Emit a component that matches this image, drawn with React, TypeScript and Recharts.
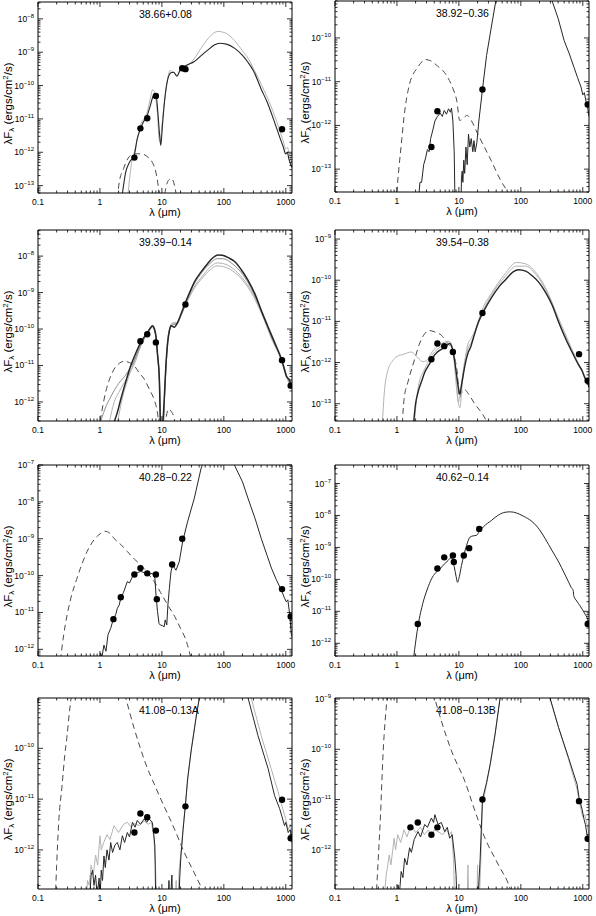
import React from 'react';
import { ComposedChart, Line, Scatter, XAxis, YAxis } from 'recharts';

type Pt = [number, number];

// ---- 38.66+0.08 ----
const P1_MODEL: Pt[] = [
  [2.3, 5.6e-14], [2.6, 2.5e-13], [3.0, 5e-13], [3.56, 7.9e-13], [4.0, 2.5e-12], [4.5, 5e-12],
  [5.0, 7.9e-12], [5.8, 1.26e-11], [6.5, 2.5e-11], [7.3, 5e-11], [8.0, 5.6e-11], [8.6, 1.6e-11],
  [9.2, 3.2e-12], [9.6, 1.6e-12], [10.2, 6.3e-12], [11, 3.2e-11], [12.4, 1.5e-10], [14, 2.4e-10],
  [15.5, 2.5e-10], [17.5, 1.9e-10], [19.5, 2.8e-10], [22, 3.5e-10], [26, 4.2e-10], [33, 5.2e-10],
  [45, 8.5e-10], [55, 1.15e-9], [70, 1.65e-9], [85, 1.86e-9], [110, 1.75e-9], [150, 1.3e-9],
  [200, 8e-10], [245, 5e-10], [300, 2.8e-10], [400, 7.9e-11], [500, 3.2e-11], [660, 7.9e-12],
  [800, 2.8e-12], [905, 1.5e-12], [1000, 8.9e-13], [1060, 1e-12], [1120, 6.3e-13], [1260, 3.5e-13],
];
const P1_ALT: Pt[] = [
  [2.85, 6e-14], [3.2, 4e-13], [3.6, 1e-12], [4.5, 6.3e-12], [5.8, 1.6e-11], [6.5, 4e-11],
  [7.1, 7.6e-11], [7.8, 5e-11], [8.5, 1.26e-11], [9.0, 2.5e-12], [9.4, 2e-12], [10, 6.3e-12],
  [11, 3.2e-11], [12.4, 1.6e-10], [13.6, 2.8e-10], [15.5, 2.5e-10], [17.5, 2e-10], [20, 3e-10],
  [24, 3.5e-10], [33, 6.3e-10], [45, 1.5e-9], [60, 3e-9], [80, 4.2e-9], [105, 3.8e-9],
  [150, 2.2e-9], [200, 1.1e-9], [250, 6.3e-10], [300, 3.3e-10], [400, 1.1e-10], [500, 4.5e-11],
  [660, 1.26e-11], [800, 4.5e-12], [905, 2.2e-12], [1000, 1.26e-12], [1060, 1.4e-12],
  [1150, 7.9e-13], [1260, 5e-13],
];
const P1_STAR: Pt[] = [
  [1.9, 4e-14], [2.05, 1.26e-13], [2.4, 3.2e-13], [2.8, 6.3e-13], [3.3, 8.5e-13], [4.0, 9e-13],
  [5.0, 8.7e-13], [6.0, 7e-13], [7.0, 5e-13], [8.0, 2.5e-13], [8.7, 1e-13], [9.4, 2.5e-14],
  [10.3, 2.5e-14], [11.5, 8e-14], [13, 1.5e-13], [14.5, 1.6e-13], [16, 1e-13], [17.5, 4e-14],
];
const P1_OBS: Pt[] = [
  [3.6, 6.9e-13], [4.5, 5.2e-12], [5.8, 1.05e-11], [8.0, 4.9e-11], [21.3, 3.3e-10], [24, 3.1e-10],
  [870, 4.9e-12],
];

// ---- 38.92-0.36 ----
const P2_MODEL: Pt[] = [
  [2.2, 1.6e-14], [2.35, 5e-14], [2.5, 5e-14], [2.7, 1.26e-13], [2.9, 1.8e-13], [3.1, 2.8e-13],
  [3.3, 2.5e-13], [3.5, 5e-13], [3.8, 7.9e-13], [4.1, 1.26e-12], [4.5, 1.6e-12], [5.0, 1.9e-12],
  [5.4, 1.6e-12], [5.8, 2.2e-12], [6.3, 1.8e-12], [6.8, 2.4e-12], [7.3, 2e-12], [7.6, 2.5e-12],
  [8.0, 1.26e-12], [8.4, 2.5e-13], [8.7, 1e-14], [10.8, 1e-14], [11.0, 6.3e-14], [11.3, 9e-14],
  [11.6, 5e-14], [12.0, 1.6e-13], [12.4, 8e-14], [13.0, 3.2e-13], [13.6, 1.26e-13], [14.3, 6.3e-13],
  [15.0, 3.2e-13], [15.8, 5e-13], [16.8, 2.5e-13], [17.5, 4.5e-13], [18.3, 2.5e-13], [19.5, 4e-13],
  [21, 1.26e-12], [24, 6.6e-12], [28, 4e-11], [33, 1.6e-10], [40, 7.9e-10], [60, 1e-8],
  [100, 2e-8], [180, 1e-8], [300, 1e-9], [320, 7e-10], [400, 2.8e-10], [500, 8.7e-11],
  [600, 4.5e-11], [724, 2.1e-11], [820, 1.26e-11], [935, 7.6e-12], [1000, 5e-12], [1060, 5.6e-12],
  [1130, 3.5e-12], [1200, 2.5e-12], [1260, 1.6e-12],
];
const P2_STAR: Pt[] = [
  [0.95, 1e-14], [1.0, 3.2e-14], [1.08, 1.1e-13], [1.2, 5e-13], [1.3, 1.55e-12], [1.6, 8.9e-12],
  [2.15, 2.1e-11], [2.9, 3.2e-11], [3.5, 3e-11], [4.5, 2.3e-11], [5.5, 1.8e-11], [6.6, 1.26e-11],
  [8.0, 7e-12], [9.3, 3.5e-12], [10.3, 1.3e-12], [11.5, 1.4e-12], [13.5, 1.7e-12], [16, 1.26e-12],
  [20, 6.5e-13], [25, 3.5e-13], [33, 1.6e-13], [47, 5.6e-14], [64, 2.8e-14],
];
const P2_OBS: Pt[] = [[3.6, 3.2e-13], [4.5, 2.1e-12], [24, 6.6e-12], [1200, 3.0e-12]];

// ---- 39.39-0.14 ----
const P3_MODEL: Pt[] = [
  [1.65, 2.5e-13], [1.9, 5e-13], [2.16, 1.15e-12], [2.6, 3.5e-12], [3.14, 9.8e-12], [3.8, 2.2e-11],
  [4.56, 4.3e-11], [5.86, 8.1e-11], [6.6, 1.1e-10], [7.06, 1.23e-10], [7.6, 1e-10], [8.0, 6.6e-11],
  [8.5, 2e-11], [9.06, 5.1e-12], [9.6, 1.6e-13], [10.3, 2.5e-13], [10.9, 1.15e-12], [11.6, 1e-11],
  [12.4, 4.3e-11], [13.2, 8.9e-11], [14, 1.23e-10], [15.8, 1.12e-10], [17.9, 1.5e-10], [20, 2.4e-10],
  [23, 4.5e-10], [28, 1e-9], [33.4, 1.95e-9], [43, 3.7e-9], [55, 6.3e-9], [68, 9.3e-9],
  [80, 1.08e-8], [95, 1.05e-8], [120, 8.9e-9], [148, 7.2e-9], [190, 4.3e-9], [245, 2.2e-9],
  [320, 8.9e-10], [403, 3.2e-10], [520, 1.12e-10], [660, 4.3e-11], [850, 1.5e-11], [950, 7.9e-12],
  [1020, 5.1e-12], [1080, 4.5e-12], [1150, 4e-12], [1230, 2.8e-12], [1260, 2.5e-12],
];
const P3_ALT1: Pt[] = [
  [1.0, 2.5e-13], [1.2, 6.3e-13], [1.5, 1.4e-12], [2.0, 3.2e-12], [2.5, 5e-12], [3.0, 7.9e-12],
  [3.6, 1.4e-11], [4.5, 3.5e-11], [5.8, 7.9e-11], [7.0, 1.2e-10], [7.8, 7.9e-11], [8.5, 2e-11],
  [9.1, 4e-12], [9.6, 2e-13], [10.5, 2.5e-13], [11.2, 2.5e-12], [12.4, 4e-11], [13.5, 1e-10],
  [15, 1.3e-10], [17.5, 1.4e-10], [20, 2.2e-10], [24, 4.7e-10], [33, 1.66e-9], [45, 3.7e-9],
  [60, 6.3e-9], [78, 8.5e-9], [95, 8.5e-9], [140, 6e-9], [200, 3.2e-9], [300, 1e-9],
  [400, 3.2e-10], [600, 5.6e-11], [850, 1.4e-11], [1000, 5.6e-12], [1100, 4e-12], [1260, 2.5e-12],
];
const P3_ALT2: Pt[] = [
  [1.4, 2.5e-13], [1.7, 1e-12], [2.0, 1.8e-12], [2.5, 3.5e-12], [3.0, 6.3e-12], [3.6, 1.1e-11],
  [4.5, 3.2e-11], [5.8, 7.1e-11], [7.0, 1.1e-10], [7.8, 7.6e-11], [8.6, 1.6e-11], [9.2, 2.5e-12],
  [9.6, 2e-13], [10.5, 2.5e-13], [11.3, 3.2e-12], [12.4, 4.5e-11], [13.5, 1.07e-10], [15, 1.4e-10],
  [17.5, 1.4e-10], [20, 2.2e-10], [24, 4.5e-10], [33, 1.4e-9], [45, 2.8e-9], [60, 5e-9],
  [78, 6.5e-9], [95, 6.3e-9], [140, 4.6e-9], [200, 2.5e-9], [300, 8.9e-10], [400, 3.2e-10],
  [600, 5.6e-11], [850, 1.4e-11], [1000, 6.3e-12], [1100, 3.5e-12], [1260, 2.2e-12],
];
const P3_ALT3: Pt[] = [
  [1.9, 2.5e-13], [2.3, 1.26e-12], [2.8, 4e-12], [3.4, 1e-11], [4.5, 3.5e-11], [5.8, 7.6e-11],
  [7.0, 1.12e-10], [7.8, 7.9e-11], [8.6, 1.8e-11], [9.2, 3.2e-12], [9.6, 2e-13], [10.5, 2.5e-13],
  [11.3, 4e-12], [12.4, 5e-11], [13.5, 1.12e-10], [15, 1.5e-10], [17.5, 1.48e-10], [20, 2.24e-10],
  [24, 4.5e-10], [33, 1.26e-9], [45, 2.5e-9], [60, 4.2e-9], [78, 5.4e-9], [95, 5.2e-9],
  [140, 3.9e-9], [200, 2.2e-9], [300, 7.9e-10], [400, 2.8e-10], [600, 5e-11], [850, 1.4e-11],
  [1000, 6.3e-12], [1100, 4e-12], [1260, 2.5e-12],
];
const P3_STAR: Pt[] = [
  [0.95, 1.6e-13], [1.05, 4.5e-13], [1.23, 1.8e-12], [1.45, 4.5e-12], [1.69, 7.9e-12], [2.0, 1.1e-11],
  [2.45, 1.3e-11], [3.0, 1.2e-11], [3.58, 9.8e-12], [4.3, 6.3e-12], [5.2, 4.2e-12], [6.3, 2.2e-12],
  [7.5, 1.15e-12], [8.5, 5e-13], [9.2, 1.6e-13], [10.5, 1e-13], [11.5, 3.2e-13], [12.8, 6.3e-13],
  [14, 5.6e-13], [15.8, 3.5e-13], [17, 1.6e-13],
];
const P3_OBS: Pt[] = [
  [4.5, 4.6e-11], [5.8, 7.2e-11], [8.0, 4.3e-11], [24, 4.7e-10], [870, 1.4e-11], [1200, 2.8e-12],
];

// ---- 39.54-0.38 ----
const P4_MODEL: Pt[] = [
  [1.85, 3.2e-14], [2.0, 1e-13], [2.19, 1.9e-13], [2.5, 3.5e-13], [2.81, 5.8e-13], [3.3, 8.9e-13],
  [3.84, 1.35e-12], [4.5, 1.8e-12], [5.24, 2.1e-12], [6.2, 2.5e-12], [7.14, 2.9e-12], [7.6, 2.5e-12],
  [8.1, 1.8e-12], [8.7, 8.9e-13], [9.2, 4.8e-13], [9.8, 2.5e-13], [10.4, 1.7e-13], [11, 2.8e-13],
  [11.7, 4.8e-13], [12.8, 1e-12], [14.2, 1.8e-12], [15.5, 2.4e-12], [17, 3.8e-12], [20.6, 9.5e-12],
  [24.8, 1.7e-11], [34, 3.9e-11], [45, 7.1e-11], [55.7, 1e-10], [75, 1.6e-10], [92, 1.8e-10],
  [120, 1.66e-10], [151, 1.3e-10], [200, 8.5e-11], [248, 5.2e-11], [320, 2.5e-11], [408, 9.5e-12],
  [520, 4e-12], [671, 1.8e-12], [850, 8.9e-13], [977, 6.3e-13], [1100, 4e-13], [1175, 3.5e-13],
  [1260, 2.5e-13],
];
const P4_ALT1: Pt[] = [
  [0.58, 3.2e-14], [0.62, 1.6e-13], [0.71, 6.3e-13], [0.85, 1.1e-12], [1.0, 1.4e-12], [1.3, 1.6e-12],
  [1.7, 1.8e-12], [2.1, 1.4e-12], [2.6, 1.05e-12], [3.0, 1.1e-12], [3.5, 1.6e-12], [4.5, 2.5e-12],
  [5.5, 3e-12], [6.8, 3.3e-12], [7.6, 2.8e-12], [8.3, 1.26e-12], [9.0, 3.2e-13], [9.6, 1.26e-13],
  [10.4, 8e-14], [11.2, 2.5e-13], [12.4, 1e-12], [14, 2.8e-12], [16, 4e-12], [18.5, 6.3e-12],
  [24, 2e-11], [34, 5e-11], [55, 1.4e-10], [85, 2.7e-10], [120, 2.5e-10], [160, 1.8e-10],
  [250, 6.6e-11], [400, 1.26e-11], [660, 2.2e-12], [900, 7.9e-13], [1100, 4e-13], [1260, 3.2e-13],
];
const P4_ALT2: Pt[] = [
  [1.9, 3.2e-14], [2.2, 2.5e-13], [2.8, 7e-13], [3.8, 1.6e-12], [5.2, 2.5e-12], [7.0, 3.2e-12],
  [8.0, 2e-12], [9.0, 6.3e-13], [9.8, 1.1e-13], [10.6, 2e-13], [12, 8e-13], [14, 2.2e-12],
  [16, 3.2e-12], [20, 7.9e-12], [24, 1.66e-11], [34, 4.5e-11], [55, 1.2e-10], [85, 2.2e-10],
  [120, 2.2e-10], [160, 1.6e-10], [250, 6e-11], [400, 1.1e-11], [660, 2e-12], [900, 7.9e-13],
  [1260, 2.8e-13],
];
const P4_STAR: Pt[] = [
  [1.22, 3.2e-14], [1.3, 1.26e-13], [1.5, 3.3e-13], [1.93, 1.2e-12], [2.3, 2.8e-12], [2.8, 5e-12],
  [3.3, 6e-12], [4.0, 5.6e-12], [5.2, 4.6e-12], [6.3, 3.2e-12], [7.6, 2.1e-12], [8.6, 1.26e-12],
  [9.5, 5e-13], [10.2, 1.4e-13], [11, 1.8e-13], [12.4, 2.2e-13], [14, 1.8e-13], [18, 1e-13],
  [24, 5.6e-14], [30, 3.2e-14],
];
const P4_OBS: Pt[] = [
  [3.6, 1.2e-12], [4.5, 2.9e-12], [5.8, 2.5e-12], [8.0, 1.8e-12], [24, 1.6e-11], [870, 1.6e-12],
  [1200, 3.6e-13],
];

// ---- 40.28-0.22 ----
const P5_MODEL: Pt[] = [
  [0.95, 3.2e-13], [1.02, 8e-13], [1.08, 6.3e-13], [1.16, 1.3e-12], [1.25, 8.9e-13], [1.35, 2.5e-12],
  [1.49, 3.7e-12], [1.6, 5.6e-12], [1.69, 6.9e-12], [1.8, 8.9e-12], [1.91, 1.3e-11], [2.05, 1.6e-11],
  [2.16, 2.4e-11], [2.4, 3.5e-11], [2.77, 6.9e-11], [3.0, 6.3e-11], [3.3, 8.9e-11], [3.56, 1.05e-10],
  [4.0, 1.2e-10], [4.56, 1.3e-10], [5.2, 1.2e-10], [5.86, 1.23e-10], [6.5, 1.12e-10], [7.06, 1.15e-10],
  [7.7, 8.5e-11], [8.1, 2.5e-11], [8.5, 1.05e-11], [9.0, 5e-12], [9.4, 4.6e-12], [10.2, 4.4e-12],
  [10.9, 4.1e-12], [11.3, 6.3e-12], [12, 4.6e-12], [12.5, 1.6e-11], [13.2, 4.5e-11], [14, 1.26e-10],
  [14.9, 1.95e-10], [16, 1.6e-10], [16.9, 1.4e-10], [19.1, 2.4e-10], [21.6, 8.3e-10], [26, 2.9e-9],
  [33.4, 1.26e-8], [42.9, 8.1e-8], [50, 1.6e-7], [100, 2.5e-7], [148, 1e-7], [200, 3.5e-8],
  [245, 1.26e-8], [320, 3.5e-9], [403, 1e-9], [500, 3.5e-10], [586, 1.6e-10], [700, 7.9e-11],
  [850, 4e-11], [950, 2.5e-11], [1020, 1.95e-11], [1080, 2.2e-11], [1160, 8.5e-12], [1230, 2.5e-12],
  [1260, 2.2e-12],
];
const P5_STAR: Pt[] = [
  [0.23, 5e-13], [0.26, 2.5e-12], [0.295, 8.5e-12], [0.34, 2.5e-11], [0.42, 7.9e-11], [0.485, 1.6e-10],
  [0.62, 4.5e-10], [0.8, 9.3e-10], [1.03, 1.4e-9], [1.2, 1.6e-9], [1.45, 1.4e-9], [1.69, 1.02e-9],
  [2.2, 6.8e-10], [2.77, 4.5e-10], [3.6, 2.8e-10], [4.56, 1.95e-10], [6.0, 1.12e-10], [7.5, 6.9e-11],
  [9.5, 3.5e-11], [12.4, 1.6e-11], [16, 7.9e-12], [20, 3.7e-12], [25, 1.6e-12], [29.5, 5.6e-13],
];
const P5_OBS: Pt[] = [
  [1.65, 6.6e-12], [2.17, 2.6e-11], [3.6, 1.07e-10], [4.5, 1.6e-10], [5.8, 1.15e-10], [8.0, 1.07e-10],
  [8.28, 2.3e-11], [14.65, 2.0e-10], [21.3, 1e-9], [870, 4.3e-11], [1200, 7.8e-12],
];

// ---- 40.62-0.14 ----
const P6_MODEL: Pt[] = [
  [1.8, 2e-13], [1.93, 6.3e-13], [2.19, 3.5e-12], [2.64, 1.9e-11], [3.1, 5e-11], [3.6, 1.02e-10],
  [4.2, 1.6e-10], [4.92, 2.1e-10], [5.8, 3e-10], [6.7, 3.9e-10], [7.4, 4.7e-10], [7.8, 4.5e-10],
  [8.4, 2.5e-10], [9.0, 1.26e-10], [9.5, 8.1e-11], [10.2, 1.26e-10], [11, 2.7e-10], [12, 5.6e-10],
  [13.3, 1.15e-9], [15.1, 2.1e-9], [17, 2.3e-9], [19.3, 2.4e-9], [21.5, 3.2e-9], [24.8, 4.4e-9],
  [33.9, 7.1e-9], [44, 1.05e-8], [55.7, 1.26e-8], [68, 1.3e-8], [85, 1.2e-8], [110, 9.5e-9],
  [151, 6.5e-9], [200, 3.6e-9], [248, 1.86e-9], [320, 7.9e-10], [408, 3.5e-10], [500, 1.6e-10],
  [593, 8.1e-11], [650, 5.6e-11], [700, 4.5e-11], [714, 3.1e-11], [800, 2.1e-11], [900, 1.5e-11],
  [977, 1.17e-11], [1100, 7.9e-12], [1175, 6.3e-12], [1260, 4e-12],
];
const P6_OBS: Pt[] = [
  [2.17, 4e-12], [4.5, 2.2e-10], [5.8, 4.9e-10], [8.0, 5.6e-10], [8.28, 3.5e-10], [12, 5.6e-10],
  [14.65, 9.5e-10], [21.3, 3.8e-9], [1200, 4e-12],
];

// ---- 41.08-0.13A ----
const P7_MODEL: Pt[] = [
  [0.68, 1e-13], [0.72, 3.2e-13], [0.76, 4e-13], [0.8, 2e-13], [0.85, 3.2e-13], [0.9, 1.26e-13],
  [0.97, 2.8e-13], [1.0, 1e-13], [1.05, 4e-13], [1.1, 2.5e-13], [1.16, 7.6e-13], [1.22, 4.5e-13],
  [1.3, 1e-12], [1.4, 6.3e-13], [1.49, 1.4e-12], [1.6, 8.9e-13], [1.75, 1.26e-12], [1.91, 1.4e-12],
  [2.1, 1e-12], [2.3, 1.9e-12], [2.5, 1.4e-12], [2.77, 2.2e-12], [3.0, 1.8e-12], [3.35, 3.5e-12],
  [3.7, 2.8e-12], [4.0, 3.8e-12], [4.5, 3.2e-12], [5.2, 4.1e-12], [5.7, 3.5e-12], [6.2, 4.1e-12],
  [7.0, 3.5e-12], [7.4, 2e-12], [7.7, 1.2e-12], [8.0, 6.3e-14], [12.5, 6.3e-14], [13, 2.5e-13],
  [13.5, 6.3e-14], [14.5, 3.2e-13], [15, 6.3e-14], [18.5, 6.3e-14], [19.5, 3.2e-13], [20.3, 7.6e-13],
  [22, 2.5e-12], [23.9, 7.4e-12], [26, 2.5e-11], [29.5, 8.5e-11], [35.6, 4e-10], [40.3, 1e-9],
  [60, 1e-8], [150, 1.6e-8], [245, 1e-9], [355, 1.8e-10], [518, 4e-11], [660, 1.17e-11],
  [795, 6.5e-12], [870, 4.5e-12], [955, 3e-12], [1000, 3.5e-12], [1096, 2.2e-12], [1180, 2.5e-12],
  [1260, 1.4e-12],
];
const P7_ALT: Pt[] = [
  [0.6, 1e-13], [0.63, 2.5e-13], [0.67, 2e-13], [0.72, 5e-13], [0.78, 3.2e-13], [0.85, 7.9e-13],
  [0.92, 5e-13], [1.0, 1.9e-12], [1.05, 1e-12], [1.15, 1.4e-12], [1.3, 2e-12], [1.45, 1.6e-12],
  [1.69, 3e-12], [2.0, 2.2e-12], [2.4, 3.2e-12], [2.77, 3.5e-12], [3.2, 2.8e-12], [3.6, 3.3e-12],
  [4.3, 3e-12], [5.2, 3.7e-12], [6.0, 3.2e-12], [6.8, 3.5e-12], [7.4, 1.8e-12], [7.9, 5e-13],
  [8.2, 6.3e-14], [16, 6.3e-14], [17, 2.5e-13], [18, 6.3e-14], [19, 4e-13], [20.5, 1e-12],
  [22, 2.8e-12], [24, 7.9e-12], [26.5, 2.8e-11], [30, 1e-10], [36, 4.5e-10], [41, 1.1e-9],
  [60, 1e-8], [160, 1.6e-8], [275, 1e-9], [400, 1.8e-10], [580, 4e-11], [750, 1.4e-11],
  [900, 6.3e-12], [1000, 4e-12], [1100, 2.5e-12], [1180, 3.2e-12], [1260, 2e-12],
];
const P7_STAR: Pt[] = [
  [0.19, 1e-13], [0.2, 5e-13], [0.215, 3.2e-12], [0.245, 1.9e-11], [0.27, 7.1e-11], [0.295, 1.8e-10],
  [0.32, 5e-10], [0.343, 1e-9], [0.5, 3.2e-8], [1.0, 5e-8], [2.0, 3.2e-9], [2.6, 1e-9],
  [3.56, 2.5e-10], [4.5, 1e-10], [5.86, 4e-11], [7.5, 2e-11], [9.6, 1e-11], [12.5, 5e-12],
  [15.9, 2.6e-12], [23, 8.9e-13], [33.4, 3.5e-13], [45.7, 1.6e-13],
];
const P7_OBS: Pt[] = [
  [3.6, 2.2e-12], [4.5, 5.2e-12], [5.8, 4.4e-12], [8.0, 2.4e-12], [24, 7.2e-12], [870, 9.7e-12],
  [1200, 1.7e-12],
];

// ---- 41.08-0.13B ----
const P8_MODEL: Pt[] = [
  [1.0, 1e-13], [1.04, 2e-13], [1.1, 1.4e-13], [1.17, 3.7e-13], [1.25, 2.8e-13], [1.33, 6.8e-13],
  [1.45, 5e-13], [1.6, 1.1e-12], [1.71, 8.9e-13], [1.9, 1.6e-12], [2.19, 2.3e-12], [2.4, 1.8e-12],
  [2.81, 3.2e-12], [3.1, 2.8e-12], [3.6, 4.3e-12], [3.9, 3.5e-12], [4.1, 5e-12], [4.6, 3.2e-12],
  [5.2, 3.5e-12], [5.9, 2.3e-12], [6.5, 2.8e-12], [7.1, 1.7e-12], [7.8, 2e-12], [8.6, 6.8e-13],
  [9.0, 3.2e-13], [9.4, 6.3e-14], [19.8, 6.3e-14], [20.5, 1.26e-13], [22, 6.3e-13], [24, 1e-11],
  [28, 2.2e-11], [32, 5e-11], [38.4, 2e-10], [46, 1e-9], [80, 1e-8], [200, 6.3e-9],
  [299, 1e-9], [407, 2.7e-10], [589, 6.8e-11], [700, 3.5e-11], [809, 2e-11], [870, 1.1e-11],
  [977, 6.3e-12], [1050, 4e-12], [1100, 3.2e-12], [1180, 1.9e-12], [1260, 1.8e-12],
];
const P8_ALT: Pt[] = [
  [0.62, 1e-13], [0.67, 3.2e-13], [0.7, 4.3e-13], [0.75, 7.9e-13], [0.8, 5e-13], [0.9, 1.7e-12],
  [0.95, 1e-12], [1.03, 2e-12], [1.15, 1.4e-12], [1.3, 2.5e-12], [1.45, 1.8e-12], [1.69, 3.2e-12],
  [2.0, 2.2e-12], [2.4, 2.8e-12], [2.77, 2e-12], [3.2, 2.5e-12], [3.6, 1.9e-12], [4.0, 2.5e-12],
  [4.6, 2.3e-12], [5.5, 2e-12], [6.3, 2.5e-12], [7.0, 2e-12], [7.6, 2.3e-12], [8.2, 6.3e-13],
  [8.6, 6.3e-14], [13.5, 6.3e-14], [14, 5e-13], [14.5, 6.3e-14], [19.5, 6.3e-14], [20, 5e-13],
  [20.5, 6.3e-14], [21, 6.3e-14], [22.5, 5e-13], [24, 7.9e-12], [28, 2e-11], [32, 5e-11],
  [38.4, 2e-10], [46, 1e-9], [80, 1e-8], [200, 6.3e-9], [299, 1e-9], [407, 2.7e-10],
  [589, 6.3e-11], [809, 1.6e-11], [900, 7.9e-12], [1000, 4.5e-12], [1080, 5e-12], [1150, 3.5e-12],
  [1260, 2e-12],
];
const P8_STAR: Pt[] = [
  [0.45, 6.3e-14], [0.47, 1.66e-13], [0.5, 6.8e-13], [0.54, 4.3e-12], [0.6, 9.3e-11], [0.69, 1e-9],
  [1.0, 3.2e-8], [2.5, 1e-8], [4.1, 1e-9], [5.2, 3.7e-10], [7.6, 9.3e-11], [12.5, 2.3e-11],
  [18.2, 5.9e-12], [26.4, 1.7e-12], [43.5, 5e-13], [67, 1.66e-13], [75, 1e-13],
];
const P8_OBS: Pt[] = [
  [1.65, 2.8e-12], [2.17, 3.5e-12], [3.6, 2.0e-12], [4.5, 2.8e-12], [24, 1.0e-11], [870, 9.3e-12],
  [1200, 1.66e-12],
];

// ---------------------------------------------------------------------------

const FONT = '"Liberation Sans", Arial, Helvetica, sans-serif';
const MODEL = '#262626';
const ALT = '#b3b3b3';
const STAR = '#4a4a4a';

const W = 298;
const PL = 38;
const PR = 6;
const PT = 10; // room above the frame so the top tick label is not cut
const PB = 35;
const PLOT_H = 191;
const H = PT + PLOT_H + PB;
const X_DOMAIN: [number, number] = [0.1, 1260];

function logTicks(lo: number, hi: number) {
  const out: number[] = [];
  for (let e = Math.floor(Math.log10(lo)); e <= Math.ceil(Math.log10(hi)); e++) {
    for (let m = 1; m < 10; m++) {
      const v = m * Math.pow(10, e);
      if (v >= lo * 0.999 && v <= hi * 1.001) out.push(v);
    }
  }
  return out;
}

const X_TICKS = logTicks(X_DOMAIN[0], X_DOMAIN[1]);

const isMajor = (v: number) => Math.abs(Math.log10(v) - Math.round(Math.log10(v))) < 1e-6;
const xLabel = (v: number) => (v < 1 ? '0.1' : String(Math.round(v)));

function BottomTick(props: any) {
  const { x, y, payload } = props;
  const major = isMajor(payload.value);
  return (
    <g>
      <line x1={x} y1={y} x2={x} y2={y - (major ? 5 : 2.5)} stroke="#000" strokeWidth={0.8} />
      {major && (
        <text x={x} y={y + 12} textAnchor="middle" fontSize={8.5} fontFamily={FONT} fill="#000">
          {xLabel(payload.value)}
        </text>
      )}
    </g>
  );
}

function TopTick(props: any) {
  const { x, y, payload } = props;
  const major = isMajor(payload.value);
  return <line x1={x} y1={y} x2={x} y2={y + (major ? 5 : 2.5)} stroke="#000" strokeWidth={0.8} />;
}

function LeftTick(props: any) {
  const { x, y, payload } = props;
  const major = isMajor(payload.value);
  const e = Math.round(Math.log10(payload.value));
  return (
    <g>
      <line x1={x} y1={y} x2={x + (major ? 5 : 2.5)} y2={y} stroke="#000" strokeWidth={0.8} />
      {major && (
        <text x={x - 4} y={y + 3} textAnchor="end" fontSize={8.5} fontFamily={FONT} fill="#000">
          10
          <tspan fontSize={6} dy={-4}>
            {'\u2212' + Math.abs(e)}
          </tspan>
        </text>
      )}
    </g>
  );
}

function RightTick(props: any) {
  const { x, y, payload } = props;
  const major = isMajor(payload.value);
  return <line x1={x} y1={y} x2={x - (major ? 5 : 2.5)} y2={y} stroke="#000" strokeWidth={0.8} />;
}

const Dot = (props: any) => <circle cx={props.cx} cy={props.cy} r={3.2} fill="#000" />;

const toXY = (arr: Pt[]) => arr.map(([x, y]) => ({ x, y }));

interface Series {
  data: Pt[];
  color: string;
  width: number;
  dash?: string;
  smooth?: boolean;
}

interface PanelSpec {
  title: string;
  left: number;
  plotTop: number;
  yDomain: [number, number];
  series: Series[];
  obs: Pt[];
}

const PANELS: PanelSpec[] = [
  {
    title: '38.66+0.08', left: 0, plotTop: 2, yDomain: [6e-14, 3.2e-8], obs: P1_OBS,
    series: [
      { data: P1_STAR, color: STAR, width: 1, dash: '6 4', smooth: true },
      { data: P1_ALT, color: ALT, width: 1, smooth: true },
      { data: P1_MODEL, color: MODEL, width: 1.1, smooth: true },
    ],
  },
  {
    title: '38.92\u22120.36', left: 297, plotTop: 1, yDomain: [3e-14, 7e-10], obs: P2_OBS,
    series: [
      { data: P2_STAR, color: STAR, width: 1, dash: '6 4', smooth: true },
      { data: P2_MODEL, color: MODEL, width: 1 },
    ],
  },
  {
    title: '39.39\u22120.14', left: 0, plotTop: 230, yDomain: [3e-13, 5.2e-8], obs: P3_OBS,
    series: [
      { data: P3_STAR, color: STAR, width: 1, dash: '6 4', smooth: true },
      { data: P3_ALT3, color: ALT, width: 1, smooth: true },
      { data: P3_ALT2, color: ALT, width: 1, smooth: true },
      { data: P3_ALT1, color: '#8c8c8c', width: 1, smooth: true },
      { data: P3_MODEL, color: MODEL, width: 1.5, smooth: true },
    ],
  },
  {
    title: '39.54\u22120.38', left: 297, plotTop: 230, yDomain: [3.8e-14, 1.66e-9], obs: P4_OBS,
    series: [
      { data: P4_STAR, color: STAR, width: 1, dash: '6 4', smooth: true },
      { data: P4_ALT1, color: ALT, width: 1, smooth: true },
      { data: P4_ALT2, color: ALT, width: 1, smooth: true },
      { data: P4_MODEL, color: MODEL, width: 1.4, smooth: true },
    ],
  },
  {
    title: '40.28\u22120.22', left: 0, plotTop: 465, yDomain: [6.6e-13, 1e-7], obs: P5_OBS,
    series: [
      { data: P5_STAR, color: STAR, width: 1, dash: '6 4', smooth: true },
      { data: P5_MODEL, color: MODEL, width: 1 },
    ],
  },
  {
    title: '40.62\u22120.14', left: 297, plotTop: 465, yDomain: [4e-13, 3.8e-7], obs: P6_OBS,
    series: [{ data: P6_MODEL, color: MODEL, width: 1, smooth: true }],
  },
  {
    title: '41.08\u22120.13A', left: 0, plotTop: 698, yDomain: [1.7e-13, 9.8e-10], obs: P7_OBS,
    series: [
      { data: P7_STAR, color: STAR, width: 1, dash: '6 4', smooth: true },
      { data: P7_ALT, color: ALT, width: 1 },
      { data: P7_MODEL, color: MODEL, width: 1 },
    ],
  },
  {
    title: '41.08\u22120.13B', left: 297, plotTop: 698, yDomain: [1.66e-13, 1.05e-9], obs: P8_OBS,
    series: [
      { data: P8_STAR, color: STAR, width: 1, dash: '6 4', smooth: true },
      { data: P8_ALT, color: ALT, width: 1 },
      { data: P8_MODEL, color: MODEL, width: 1 },
    ],
  },
];

function Panel({ title, left, plotTop, yDomain, series, obs }: PanelSpec) {
  const yTicks = logTicks(yDomain[0], yDomain[1]);
  const axisLine = { stroke: '#000', strokeWidth: 1 };
  return (
    <div style={{ position: 'absolute', left, top: plotTop - PT, width: W, height: H }}>
      <ComposedChart width={W} height={H} margin={{ top: 0, right: 0, bottom: 0, left: 0 }}>
        <XAxis
          xAxisId="b"
          dataKey="x"
          type="number"
          scale="log"
          domain={X_DOMAIN}
          allowDataOverflow
          ticks={X_TICKS}
          interval={0}
          tick={BottomTick}
          tickLine={false}
          tickSize={0}
          tickMargin={0}
          axisLine={axisLine}
          height={PB}
        />
        <XAxis
          xAxisId="t"
          orientation="top"
          dataKey="x"
          type="number"
          scale="log"
          domain={X_DOMAIN}
          allowDataOverflow
          ticks={X_TICKS}
          interval={0}
          tick={TopTick}
          tickLine={false}
          tickSize={0}
          tickMargin={0}
          axisLine={axisLine}
          height={PT}
        />
        <YAxis
          yAxisId="l"
          dataKey="y"
          type="number"
          scale="log"
          domain={yDomain}
          allowDataOverflow
          ticks={yTicks}
          interval={0}
          tick={LeftTick}
          tickLine={false}
          tickSize={0}
          tickMargin={0}
          axisLine={axisLine}
          width={PL}
        />
        <YAxis
          yAxisId="r"
          orientation="right"
          dataKey="y"
          type="number"
          scale="log"
          domain={yDomain}
          allowDataOverflow
          ticks={yTicks}
          interval={0}
          tick={RightTick}
          tickLine={false}
          tickSize={0}
          tickMargin={0}
          axisLine={axisLine}
          width={PR}
        />
        {series.map((s, i) => (
          <Line
            key={i}
            xAxisId="b"
            yAxisId="l"
            data={toXY(s.data)}
            dataKey="y"
            type={s.smooth ? 'monotone' : 'linear'}
            stroke={s.color}
            strokeWidth={s.width}
            strokeDasharray={s.dash}
            dot={false}
            activeDot={false}
            isAnimationActive={false}
          />
        ))}
        <Scatter xAxisId="b" yAxisId="l" data={toXY(obs)} dataKey="y" shape={Dot} isAnimationActive={false} />
      </ComposedChart>
      <svg
        width={W}
        height={H}
        style={{ position: 'absolute', left: 0, top: 0, pointerEvents: 'none' }}
        fontFamily={FONT}
      >
        <text x={139} y={PT + 16} fontSize={10.5} fill="#000">
          {title}
        </text>
        <text x={(PL + W - PR) / 2} y={PT + PLOT_H + 23} textAnchor="middle" fontSize={11} fill="#000">
          {'\u03bb (\u03bcm)'}
        </text>
        <text
          transform={`translate(12, ${PT + PLOT_H / 2 + 6}) rotate(-90)`}
          textAnchor="middle"
          fontSize={11.5}
          fill="#000"
        >
          {'\u03bbF'}
          <tspan fontSize={8} dy={2}>
            {'\u03bb'}
          </tspan>
          <tspan dy={-2}>{' (ergs/cm'}</tspan>
          <tspan fontSize={8} dy={-4}>
            2
          </tspan>
          <tspan dy={4}>{'/s)'}</tspan>
        </text>
      </svg>
    </div>
  );
}

export default function App() {
  return (
    <div
      style={{
        position: 'absolute',
        left: 0,
        top: 0,
        width: 596,
        height: 916,
        background: '#fff',
        overflow: 'hidden',
      }}
    >
      {PANELS.map((p) => (
        <Panel key={p.title} {...p} />
      ))}
    </div>
  );
}
